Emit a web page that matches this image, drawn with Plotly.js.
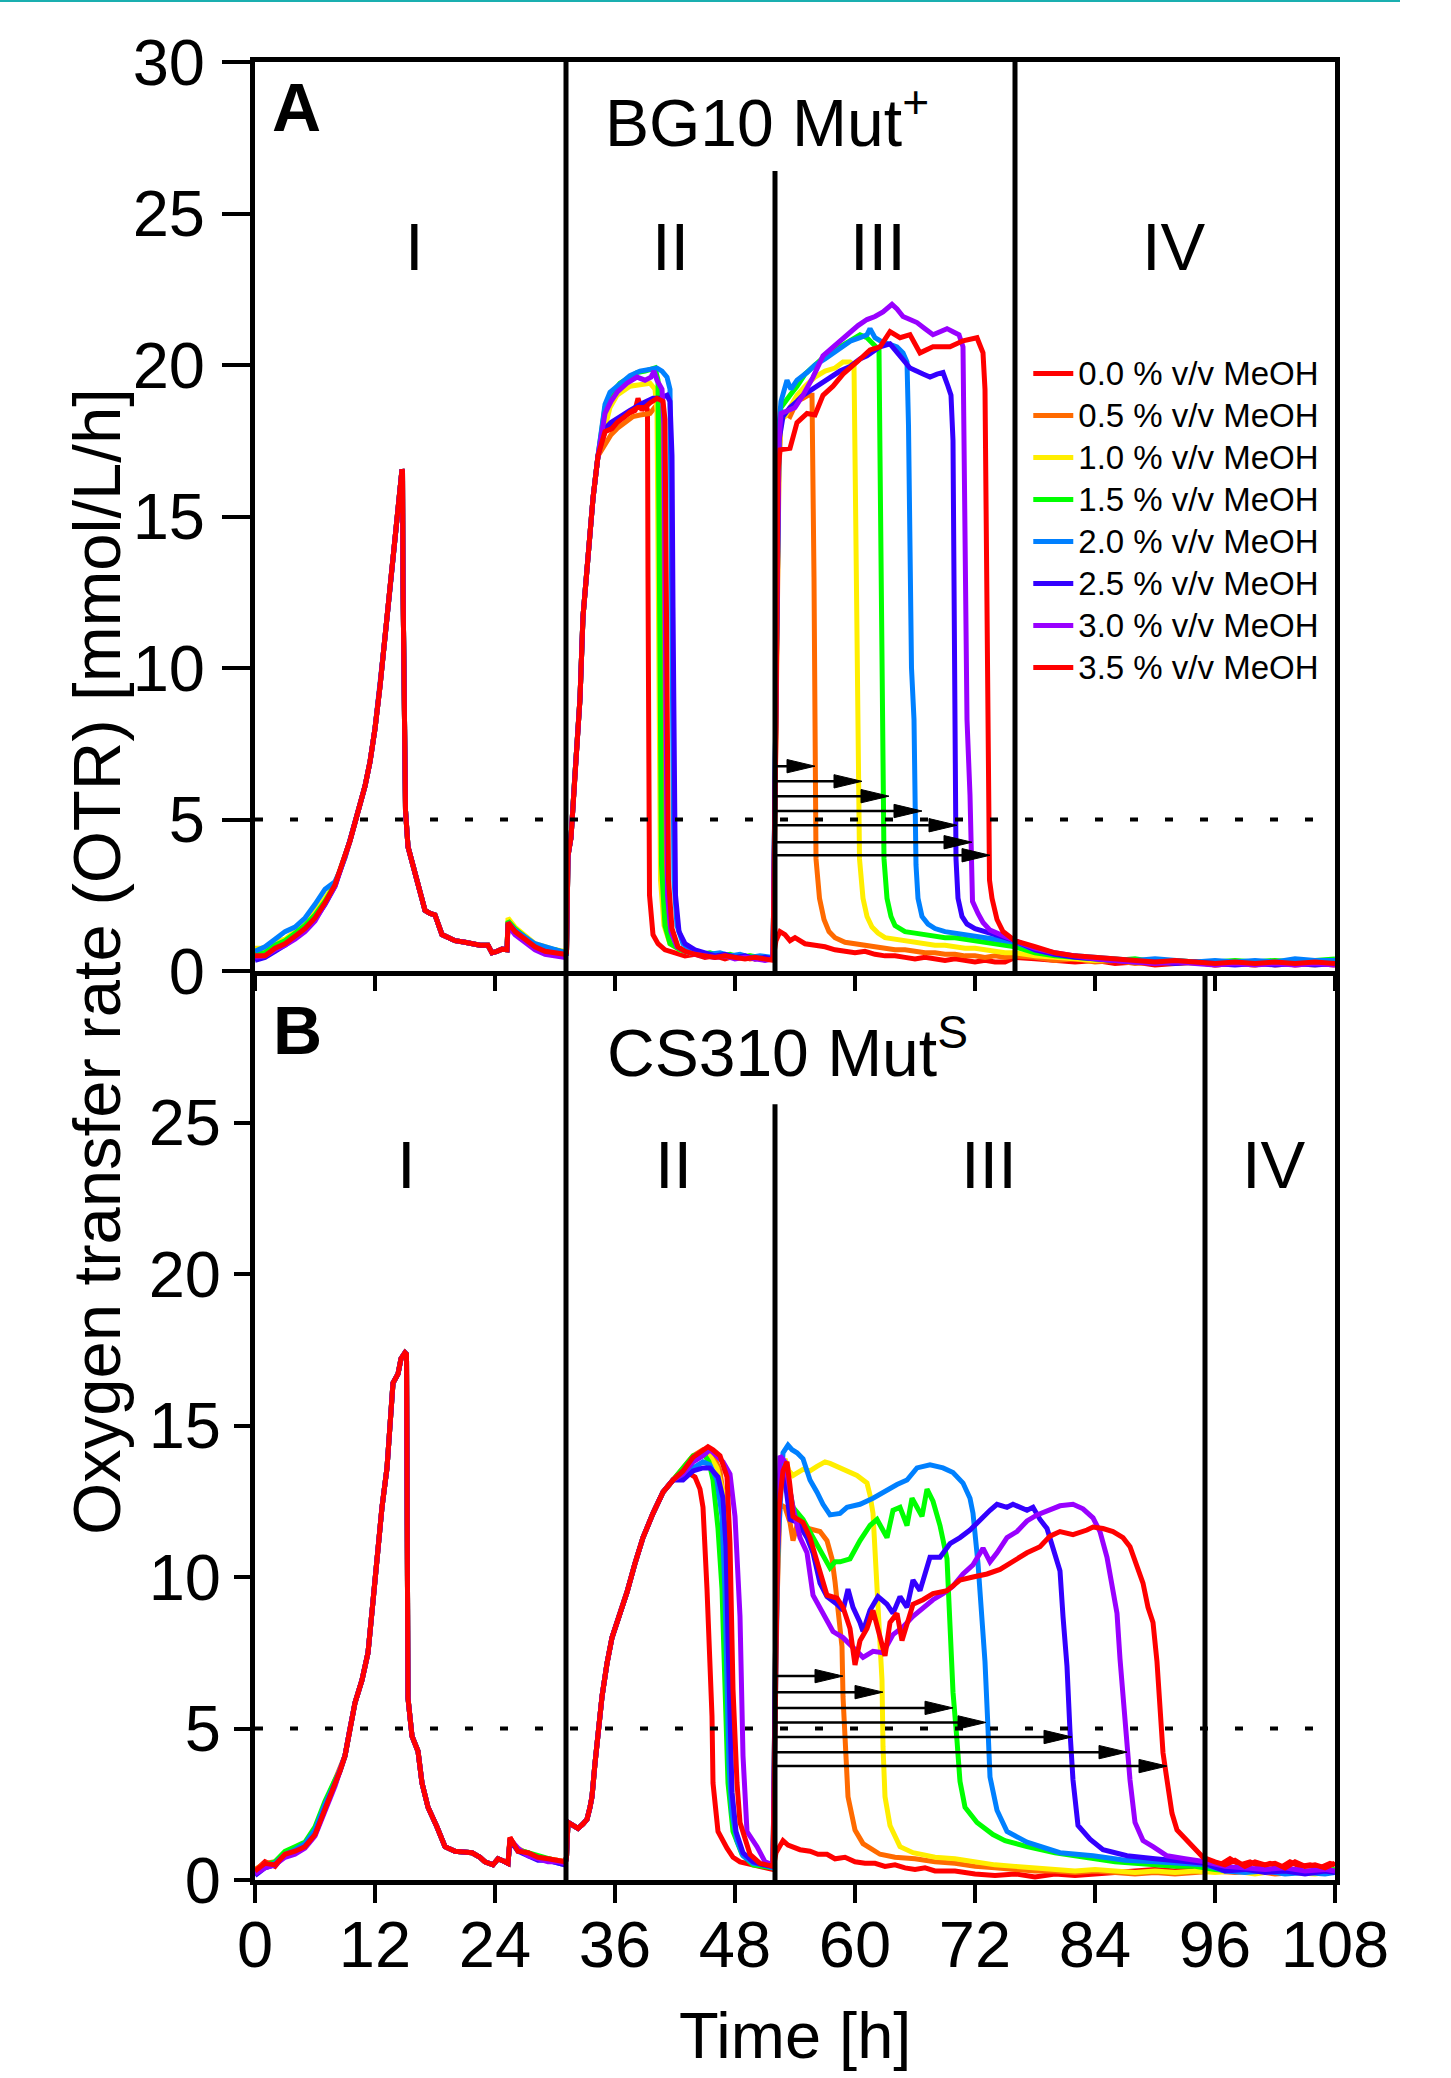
<!DOCTYPE html>
<html>
<head>
<meta charset="utf-8">
<script src="https://cdn.plot.ly/plotly-3.0.1.min.js"></script>
<style>html,body{margin:0;padding:0;background:#fff;}#chart{width:1451px;height:2078px;}</style>
</head>
<body>
<div id="chart"></div>
<script>
// ---------------- DATA ----------------
const seriesNames = ['0.0 % v/v MeOH','0.5 % v/v MeOH','1.0 % v/v MeOH','1.5 % v/v MeOH','2.0 % v/v MeOH','2.5 % v/v MeOH','3.0 % v/v MeOH','3.5 % v/v MeOH'];
const seriesColors = ['#FF0000','#FF6A00','#FFEE00','#00FF00','#0080FF','#3300FF','#9900FF','#FF0000'];
const xTicks = [0,12,24,36,48,60,72,84,96,108];
const yTicksTop = [0,5,10,15,20,25,30];
const yTicksBottom = [0,5,10,15,20,25];

// ---- Panel A (BG10 Mut+) ----
const earlyT = [0,1,2,3,4,5,6,7,8];
const earlyA = [
  [0.6,0.55,0.8,0.95,1.2,1.45,1.8,2.3,2.85],
  [0.7,0.7,0.9,1.0,1.25,1.5,1.9,2.35,2.9],
  [0.75,0.75,0.95,1.05,1.3,1.6,1.95,2.4,2.9],
  [0.55,0.6,0.85,1.0,1.25,1.5,1.85,2.3,2.85],
  [0.65,0.8,1.05,1.3,1.45,1.75,2.2,2.7,2.95],
  [0.35,0.45,0.65,0.85,1.1,1.35,1.7,2.2,2.8],
  [0.45,0.5,0.7,0.85,1.05,1.3,1.65,2.2,2.8],
  [0.5,0.5,0.75,0.9,1.15,1.4,1.75,2.25,2.85]
];
const coreA = [[8.5,3.3],[9,3.75],[9.5,4.3],[10,4.9],[10.5,5.5],[11,6.1],[11.5,6.9],[12,8.0],[12.5,9.4],[13,11.0],[13.5,12.6],[14,14.1],[14.3,15.0],[14.5,15.7],[14.7,16.55],[14.75,16.5],[14.8,12.8],[14.9,9.1],[15.05,5.3],[15.3,4.1],[15.7,3.6],[16.2,3.1],[16.6,2.5],[17,2.0],[17.5,1.9],[18,1.85],[18.7,1.2],[19.3,1.1],[20,1.0],[21,0.95],[21.7,0.9],[22.5,0.85],[23.3,0.85],[23.7,0.6],[24.2,0.65],[24.7,0.72],[25.2,0.7]];
const lateTA = [25.3,26,27,28,29,30,31];
const lateA = [
  [1.6,1.3,1.05,0.8,0.7,0.6,0.55],
  [1.6,1.35,1.1,0.85,0.75,0.65,0.6],
  [1.75,1.45,1.15,0.9,0.8,0.7,0.65],
  [1.65,1.4,1.1,0.85,0.75,0.7,0.6],
  [1.6,1.35,1.1,0.9,0.8,0.7,0.6],
  [1.55,1.3,1.0,0.75,0.65,0.55,0.5],
  [1.5,1.2,0.95,0.7,0.55,0.5,0.45],
  [1.6,1.3,1.05,0.8,0.65,0.6,0.55]
];
const riseA = [[31.15,0.6],[31.3,3.8],[31.6,4.4],[32.0,6.5],[32.5,9.0],[32.8,11.7],[33.3,13.9],[33.8,15.6],[34.3,17.0]];
const segA00 = [[35,17.8],[35.6,18.0],[36.2,18.1],[36.8,18.3],[37.5,18.4],[38.0,18.5],[38.3,18.9],[38.7,18.5],[39.1,18.7],[39.25,18.5],[39.3,13],[39.35,7],[39.45,2.5],[39.8,1.2],[40.3,0.9],[41,0.7],[42,0.6],[43,0.5],[44,0.55],[45,0.45],[46,0.5],[47,0.4],[48,0.5],[49,0.45],[50,0.4],[51,0.45],[51.8,0.4],
 [52.1,1.0],[52.5,1.3],[53,1.2],[53.5,1.0],[54,1.1],[55,0.9],[56,0.85],[57,0.8],[58,0.7],[59,0.65],[60,0.6],[61,0.65],[62,0.55],[63,0.5],[64,0.5],[65,0.45],[66,0.4],[67,0.45],[68,0.4],[69,0.35],[70,0.4],[71,0.35],[72,0.3],[73,0.35],[74,0.3],[75,0.3],[76,0.45],
 [78,0.4],[80,0.35],[82,0.3],[84,0.35],[86,0.25],[88,0.3],[90,0.2],[92,0.25],[94,0.3],[96,0.2],[98,0.25],[100,0.2],[102,0.3],[104,0.2],[106,0.25],[108,0.2]];
const segA05 = [[35,17.4],[35.6,17.7],[36.2,17.9],[37,18.1],[37.8,18.3],[38.5,18.35],[39.5,18.4],[40.2,18.7],[40.5,18.5],[40.6,14],[40.7,8],[40.85,3],[41.2,1.5],[41.8,0.9],[42.5,0.7],[43.5,0.6],[44.5,0.55],[45.5,0.5],[46.5,0.55],[47.5,0.45],[48.5,0.5],[49.5,0.4],[50.5,0.45],[51.8,0.4],
 [52.1,8],[52.4,16.5],[52.6,18.3],[53,18.4],[53.5,18.3],[54.2,18.8],[54.8,18.9],[55.3,19.0],[55.7,19.0],[55.8,17],[55.9,13],[56.0,8.3],[56.05,5],[56.1,3.7],[56.45,2.4],[56.9,1.7],[57.4,1.3],[58,1.1],[59,0.95],[60,0.9],[61,0.85],[62,0.8],[63,0.75],[64,0.7],[65,0.7],[66,0.65],[67,0.6],[68,0.6],[69,0.55],[70,0.55],[71,0.5],[72,0.5],[73,0.45],[74,0.5],[75,0.45],[76,0.5],
 [78,0.45],[80,0.35],[82,0.4],[84,0.3],[86,0.35],[88,0.25],[90,0.3],[92,0.25],[94,0.3],[96,0.2],[98,0.25],[100,0.3],[102,0.2],[104,0.25],[106,0.3],[108,0.25]];
const segA10 = [[35,18.0],[35.5,18.6],[36.2,19.0],[37.5,19.3],[38.5,19.35],[39.5,19.4],[40.0,19.2],[40.2,18.5],[40.3,14],[40.4,8],[40.55,3],[40.9,1.5],[41.5,0.9],[42.5,0.7],[43.5,0.6],[44.5,0.6],[45.5,0.5],[46.5,0.55],[47.5,0.5],[48.5,0.45],[49.5,0.5],[50.5,0.4],[51.8,0.45],
 [52.1,9],[52.4,17],[52.6,18.2],[53,18.3],[53.5,18.6],[54.2,19.0],[55,19.3],[56,19.6],[57,19.8],[58,19.9],[58.8,20.1],[59.5,20.1],[59.9,20.0],[60.0,17],[60.1,13],[60.3,9],[60.4,5],[60.45,3.7],[60.8,2.4],[61.2,1.8],[61.7,1.45],[62.3,1.25],[63,1.1],[64,1.05],[65,1.0],[66,0.95],[67,0.9],[68,0.85],[69,0.85],[70,0.8],[71,0.75],[72,0.75],[73,0.7],[74,0.65],[75,0.6],[76,0.6],
 [78,0.5],[80,0.45],[82,0.4],[84,0.35],[86,0.4],[88,0.3],[90,0.35],[92,0.3],[94,0.25],[96,0.3],[98,0.25],[100,0.2],[102,0.3],[104,0.25],[106,0.2],[108,0.3]];
const segA15 = [[35,18.6],[35.5,19.0],[36.5,19.4],[37.5,19.6],[38.2,19.75],[39,19.8],[39.5,19.85],[40,19.9],[40.3,19.5],[40.4,15],[40.5,9],[40.65,3.5],[41,1.5],[41.5,0.9],[42.5,0.7],[43.5,0.6],[44.5,0.55],[45.5,0.6],[46.5,0.5],[47.5,0.55],[48.5,0.45],[49.5,0.5],[50.5,0.45],[51.8,0.4],
 [52.1,9],[52.4,17.5],[52.6,18.6],[53,18.8],[53.5,19.0],[54.2,19.3],[55,19.7],[56,20.0],[57,20.3],[58,20.5],[59,20.7],[60,20.9],[60.5,21.0],[61.2,20.9],[62,20.6],[62.4,20.5],[62.5,17],[62.6,13],[62.75,9],[62.8,6],[62.9,3.7],[63.2,2.4],[63.6,1.8],[64,1.5],[64.5,1.4],[65,1.3],[66,1.25],[67,1.2],[68,1.15],[69,1.1],[70,1.1],[71,1.05],[72,1.0],[73,0.95],[74,0.9],[75,0.85],[76,0.8],
 [78,0.6],[80,0.5],[82,0.45],[84,0.4],[86,0.35],[88,0.4],[90,0.3],[92,0.35],[94,0.3],[96,0.3],[98,0.35],[100,0.3],[102,0.35],[104,0.3],[106,0.35],[108,0.4]];
const segA20 = [[35,18.7],[35.5,19.1],[36.5,19.4],[37.5,19.65],[38.5,19.8],[39.5,19.85],[40.2,19.9],[40.7,19.8],[41.2,19.6],[41.5,19.2],[41.6,15],[41.75,8],[41.9,3],[42.2,1.5],[42.8,0.9],[43.5,0.7],[44.5,0.6],[45.5,0.55],[46.5,0.6],[47.5,0.5],[48.5,0.55],[49.5,0.45],[50.5,0.5],[51.8,0.45],
 [52.1,10],[52.4,18],[52.6,18.8],[52.8,19.0],[53.2,19.5],[53.6,19.2],[54.2,19.5],[55.2,19.75],[56,20.0],[57,20.2],[57.8,20.4],[58.8,20.6],[59.6,20.8],[60.5,20.9],[61.2,21.0],[61.5,21.2],[62,20.9],[62.5,20.8],[63.3,20.7],[64.2,20.6],[64.8,20.4],[65.2,20.1],[65.35,18],[65.5,14],[65.65,10],[65.9,8.3],[66.0,5],[66.1,3.5],[66.3,2.4],[66.7,1.8],[67.3,1.55],[68,1.4],[69,1.3],[70,1.25],[71,1.2],[72,1.15],[73,1.1],[74,1.05],[75,1.0],[76,0.95],
 [78,0.7],[80,0.55],[82,0.5],[84,0.45],[86,0.4],[88,0.35],[90,0.4],[92,0.35],[94,0.3],[96,0.35],[98,0.3],[100,0.35],[102,0.3],[104,0.4],[106,0.35],[108,0.35]];
const segA25 = [[35,17.9],[35.6,18.1],[36.5,18.3],[37.5,18.5],[38.8,18.75],[39.8,18.9],[40.5,18.9],[41.2,19.0],[41.5,18.8],[41.7,17],[41.8,12],[41.9,6],[42.05,2.5],[42.4,1.3],[43,0.9],[44,0.7],[45,0.6],[46,0.5],[47,0.55],[48,0.45],[49,0.5],[50,0.4],[51,0.45],[51.8,0.4],
 [52.1,9],[52.4,17.5],[52.8,18.3],[53.5,18.6],[54.2,18.8],[54.8,19.0],[56.2,19.3],[57.5,19.6],[58.5,19.8],[59.5,19.95],[60.5,20.2],[61.2,20.3],[62.5,20.6],[63.5,20.7],[64,20.5],[64.5,20.25],[65.5,19.9],[66.8,19.7],[67.5,19.6],[68.2,19.7],[68.8,19.75],[69.3,19.3],[69.6,19.0],[69.8,17.5],[69.9,12],[70.0,8.3],[70.05,5],[70.1,3.7],[70.3,2.4],[70.7,1.8],[71.2,1.55],[72,1.4],[73,1.3],[74,1.2],[75,1.1],[76,1.0],
 [78,0.7],[80,0.55],[82,0.45],[84,0.4],[86,0.35],[88,0.3],[90,0.3],[92,0.25],[94,0.3],[96,0.25],[98,0.2],[100,0.25],[102,0.2],[104,0.25],[106,0.2],[108,0.25]];
const segA30 = [[35,18.4],[35.6,18.8],[36.2,19.1],[37.2,19.4],[38.2,19.6],[39,19.5],[39.6,19.6],[39.9,19.8],[40.2,19.5],[40.7,19.2],[40.9,18],[41.0,13],[41.1,7],[41.25,2.5],[41.6,1.3],[42.2,0.8],[43,0.65],[44,0.55],[45,0.5],[46,0.45],[47,0.5],[48,0.4],[49,0.45],[50,0.4],[51,0.35],[51.8,0.4],
 [52.1,9],[52.4,17.5],[52.6,18.4],[53.2,18.5],[54,18.6],[54.8,19.0],[55.8,19.6],[56.8,20.3],[57.8,20.6],[58.6,20.8],[59.5,21.1],[60.3,21.3],[61.2,21.5],[62,21.6],[62.8,21.75],[63.4,21.9],[63.7,22.0],[64.2,21.85],[64.8,21.6],[65.5,21.5],[66.2,21.4],[67,21.2],[67.8,21.0],[68.5,21.1],[69.2,21.2],[69.8,21.1],[70.4,21.0],[70.8,20.6],[71.0,15],[71.2,8.3],[71.5,5.8],[71.6,3.1],[71.75,2.3],[72.3,1.9],[72.8,1.6],[73.5,1.35],[74.5,1.2],[75.5,1.05],[76,1.0],
 [78,0.75],[80,0.6],[82,0.5],[84,0.4],[86,0.35],[88,0.3],[90,0.25],[92,0.3],[94,0.25],[96,0.2],[98,0.25],[100,0.2],[102,0.25],[104,0.2],[106,0.25],[108,0.2]];
const segA35 = [[35,17.8],[35.7,17.9],[36.2,18.1],[37,18.3],[37.5,18.45],[38.3,18.6],[39.0,18.6],[39.5,18.75],[40.2,18.9],[40.8,18.8],[41.0,18.2],[41.1,14],[41.2,8],[41.35,3],[41.7,1.4],[42.3,0.8],[43,0.65],[44,0.55],[45,0.5],[46,0.45],[47,0.5],[48,0.45],[49,0.4],[50,0.45],[51,0.4],[51.8,0.35],
 [52.1,8],[52.3,16.5],[52.5,17.2],[53.5,17.25],[54.2,18.1],[55.2,18.4],[56,18.35],[56.8,19.0],[57.8,19.3],[58.8,19.7],[60.2,20.1],[61.5,20.5],[62.5,20.6],[63.5,21.1],[64.5,20.9],[65.5,21.0],[66.5,20.4],[67.8,20.6],[69.5,20.6],[70.8,20.8],[72.2,20.9],[72.8,20.4],[73.0,19.2],[73.1,15],[73.2,11],[73.3,8.3],[73.35,5],[73.45,3.0],[73.7,2.4],[74.2,1.7],[74.8,1.3],[75.5,1.1],[76,1.0],
 [78,0.8],[80,0.6],[82,0.5],[84,0.45],[86,0.4],[88,0.35],[90,0.3],[92,0.35],[94,0.3],[96,0.25],[98,0.3],[100,0.25],[102,0.3],[104,0.25],[106,0.3],[108,0.25]];
const segsA = [segA00,segA05,segA10,segA15,segA20,segA25,segA30,segA35];

// ---- Panel B (CS310 MutS) ----
const earlyB = [
  [0.3,0.6,0.45,0.85,0.95,1.1,1.5,2.3,3.2],
  [0.35,0.55,0.6,0.9,1.0,1.2,1.7,2.5,3.3],
  [0.3,0.5,0.55,0.85,1.0,1.15,1.6,2.45,3.25],
  [0.25,0.5,0.6,0.95,1.1,1.25,1.75,2.6,3.3],
  [0.2,0.45,0.55,0.85,1.0,1.2,1.65,2.5,3.2],
  [0.15,0.4,0.5,0.8,0.9,1.1,1.5,2.3,3.1],
  [0.2,0.4,0.5,0.75,0.85,1.05,1.45,2.25,3.1],
  [0.3,0.55,0.5,0.85,0.95,1.1,1.5,2.3,3.15]
];
const coreB = [[8.5,3.6],[9.0,4.1],[9.5,5.0],[10,5.85],[10.7,6.6],[11.3,7.5],[11.8,9.2],[12.2,10.7],[12.7,12.3],[13.2,13.6],[13.5,15.2],[13.8,16.4],[14.3,16.7],[14.6,17.2],[15.0,17.4],[15.15,17.35],[15.22,11.7],[15.3,6.0],[15.7,4.75],[16.3,4.25],[16.7,3.2],[17.3,2.4],[18.2,1.75],[19,1.1],[20,0.95],[21,0.9],[21.7,0.9],[22.5,0.75],[23,0.6],[23.8,0.5],[24.3,0.7],[25,0.6],[25.3,0.55]];
const lateTB = [25.5,26.3,27.3,28.3,29.3,30.3,31.0];
const lateB = [
  [1.4,0.95,0.9,0.7,0.7,0.65,0.6],
  [1.35,1.0,0.9,0.75,0.7,0.6,0.6],
  [1.3,1.05,0.85,0.7,0.7,0.65,0.6],
  [1.35,1.0,0.9,0.8,0.7,0.6,0.55],
  [1.3,1.0,0.85,0.7,0.65,0.55,0.5],
  [1.3,0.95,0.8,0.65,0.65,0.55,0.5],
  [1.35,1.05,0.8,0.7,0.6,0.6,0.55],
  [1.4,0.95,0.9,0.75,0.7,0.65,0.6]
];
const riseB = [[31.05,0.6],[31.15,0.75],[31.3,1.9],[31.8,1.8],[32.3,1.7],[32.8,1.85],[33.2,2.0],[33.5,2.4],[33.7,2.75],[34.0,3.85],[34.3,4.95],[34.7,6.05],[35.2,7.15],[35.7,8.0],[36.5,8.8],[37.2,9.5],[38.0,10.45],[38.8,11.3],[39.8,12.1],[40.8,12.8],[41.8,13.2]];
const segB00 = [[42.8,13.5],[43.5,13.4],[44.0,13.3],[44.5,12.9],[44.8,12.3],[45.2,9.6],[45.5,7.4],[45.7,5.4],[45.8,3.2],[46.3,1.6],[47.2,1.05],[47.8,0.75],[48.5,0.6],[49.8,0.5],[50.5,0.45],[51.2,0.4],[51.8,0.35],
 [52.1,0.9],[52.8,1.3],[53.3,1.15],[53.8,1.1],[54.5,1.0],[55.5,0.95],[56.3,0.85],[57.2,0.85],[58,0.7],[59,0.75],[60,0.6],[61,0.55],[62,0.55],[63,0.45],[64,0.5],[65,0.4],[66,0.35],[67,0.4],[68,0.3],[70,0.3],[72,0.2],[74,0.15],[76,0.2],[78,0.1],[80,0.2],[82,0.15],[84,0.2],[86,0.25],[88,0.3],[90,0.35],[92,0.3],[94,0.45],
 [95.5,0.6],[96.5,0.5],[97.5,0.7],[98.5,0.5],[99.5,0.6],[100.5,0.45],[101.5,0.55],[102.5,0.4],[103.5,0.6],[104.5,0.45],[105.5,0.5],[106.5,0.4],[107.5,0.55],[108,0.5]];
const segB05 = [[42.8,13.6],[43.8,14.0],[44.8,14.2],[45.3,14.2],[46.0,13.9],[46.5,13.5],[46.9,12.5],[47.1,10.5],[47.3,7.5],[47.5,4.5],[47.7,2.5],[48.1,1.4],[48.7,0.9],[49.5,0.6],[50.5,0.5],[51.8,0.45],
 [52.1,8],[52.5,12.4],[53.0,12.3],[53.5,11.8],[53.8,11.2],[54.2,11.7],[54.8,11.65],[55.8,11.6],[56.5,11.5],[57.2,11.2],[57.7,10.6],[58.0,9.85],[58.3,8.8],[58.7,7.7],[58.8,6.05],[59.0,4.4],[59.3,2.75],[60.0,1.65],[60.8,1.2],[62.5,0.85],[64,0.75],[66,0.7],[68,0.6],[70,0.55],[72,0.45],[74,0.4],[76,0.35],[78,0.3],[80,0.3],[82,0.25],[84,0.3],[86,0.25],[88,0.2],[90,0.25],[92,0.2],[94,0.25],
 [96,0.3],[98,0.25],[100,0.3],[102,0.2],[104,0.25],[106,0.3],[108,0.25]];
const segB10 = [[42.8,13.5],[43.8,13.9],[44.8,14.1],[45.5,14.0],[46.2,13.6],[46.8,12.8],[47.1,11],[47.3,8],[47.5,5],[47.7,2.8],[48.1,1.5],[48.7,0.9],[49.5,0.6],[50.5,0.5],[51.8,0.45],
 [52.1,9],[52.5,13.0],[53.0,13.9],[53.4,13.5],[53.8,13.35],[54.8,13.55],[55.5,13.5],[56.2,13.65],[57.0,13.8],[57.5,13.75],[58.2,13.65],[58.8,13.55],[59.5,13.45],[60.2,13.35],[61.2,13.1],[61.5,12.7],[61.8,12.1],[62.0,11.0],[62.3,8.8],[62.7,6.6],[62.8,4.4],[63.0,2.75],[63.5,1.8],[64.5,1.1],[65.8,0.9],[67,0.8],[68,0.75],[70,0.7],[72,0.6],[74,0.5],[76,0.45],[78,0.4],[80,0.35],[82,0.3],[84,0.35],[86,0.3],[88,0.25],[90,0.3],[92,0.25],[94,0.3],
 [96,0.25],[98,0.3],[100,0.2],[102,0.3],[104,0.25],[106,0.2],[108,0.3]];
const segB15 = [[42.8,13.6],[43.8,14.0],[44.8,14.1],[45.4,13.8],[45.8,13.2],[46.3,11.6],[46.7,9.6],[47.0,6.3],[47.3,3.2],[47.8,1.6],[48.7,0.85],[49.8,0.5],[50.8,0.45],[51.8,0.4],
 [52.1,9],[52.5,13.2],[53.0,13.7],[53.4,13.0],[53.8,12.3],[54.8,11.9],[55.8,11.3],[56.7,10.8],[57.5,10.3],[58.0,10.5],[58.5,10.5],[59.5,10.6],[60.0,10.9],[60.5,11.2],[61.5,11.7],[62.2,11.9],[62.7,11.6],[63.2,11.3],[63.8,12.2],[64.5,12.3],[65.2,11.7],[65.7,12.6],[66.2,12.3],[66.7,12.0],[67.2,12.9],[67.8,12.5],[68.5,11.7],[68.9,11.0],[69.2,10.6],[69.5,8.4],[69.8,6.2],[70.2,4.6],[70.5,3.25],[71.0,2.4],[72.2,1.9],[73.8,1.5],[75,1.3],[77.2,1.1],[80,0.9],[82,0.8],[84,0.7],[86,0.6],[88,0.55],[90,0.5],[92,0.45],[94,0.45],
 [96,0.35],[98,0.3],[100,0.35],[102,0.3],[104,0.25],[106,0.3],[108,0.35]];
const segB20 = [[42.8,13.3],[43.8,13.6],[44.8,13.8],[45.5,13.7],[46.2,13.2],[46.7,12.0],[47.0,9.5],[47.2,6.5],[47.4,3.8],[47.7,2.2],[48.2,1.3],[48.8,0.8],[49.8,0.55],[50.8,0.5],[51.8,0.4],
 [52.05,6],[52.3,11.0],[52.8,14.1],[53.3,14.35],[53.7,14.2],[54.2,14.1],[54.8,13.9],[55.5,13.2],[56.2,12.8],[56.8,12.4],[57.5,12.05],[58.5,12.1],[59.2,12.3],[60.5,12.4],[61.8,12.6],[62.8,12.8],[64.2,13.05],[65.2,13.2],[66.2,13.6],[67.5,13.7],[68.8,13.6],[69.8,13.45],[70.8,13.1],[71.5,12.6],[71.8,12.1],[72.3,10.45],[72.7,8.8],[73.0,7.2],[73.3,5.0],[73.5,3.4],[74.2,2.3],[75.2,1.6],[77.2,1.25],[80.5,0.9],[83.8,0.8],[87,0.65],[90,0.6],[93,0.55],[95,0.5],
 [97,0.3],[99,0.25],[101,0.3],[103,0.2],[105,0.25],[107,0.2],[108,0.25]];
const segB25 = [[42.8,13.2],[43.8,13.5],[44.8,13.6],[45.5,13.6],[46.3,13.3],[46.8,12.6],[47.1,11],[47.3,8],[47.5,5],[47.7,2.9],[48.1,1.6],[48.8,0.9],[49.8,0.6],[50.8,0.5],[51.8,0.45],
 [52.1,9],[52.5,13.4],[53.0,13.2],[53.5,11.9],[54.3,11.8],[55.2,11.3],[55.8,10.8],[56.5,9.8],[57.2,9.35],[58.2,9.1],[58.8,8.9],[59.3,9.6],[59.8,9.0],[60.5,8.5],[60.8,8.2],[61.5,8.9],[62.3,9.35],[63.2,9.1],[63.8,8.8],[64.5,9.35],[65.2,9.0],[65.8,9.9],[66.5,9.55],[67.5,10.65],[68.5,10.65],[69.5,11.1],[70.5,11.3],[71.5,11.55],[72.5,11.9],[73.5,12.2],[74.2,12.4],[75.2,12.3],[75.8,12.4],[77.2,12.2],[77.8,12.3],[78.5,11.9],[79.2,11.6],[79.8,10.9],[80.5,10.2],[80.8,8.7],[81.2,7.05],[81.5,4.9],[81.8,3.3],[82.3,1.8],[83.5,1.35],[84.8,1.0],[87.2,0.8],[90,0.7],[93,0.6],[95,0.55],
 [97,0.3],[99,0.35],[101,0.25],[103,0.3],[105,0.2],[107,0.3],[108,0.25]];
const segB30 = [[42.8,13.4],[43.8,13.8],[44.8,14.0],[45.5,14.2],[46.2,14.0],[46.8,13.8],[47.5,13.4],[48.0,12.0],[48.5,8.7],[48.7,6.3],[48.8,4.1],[49.2,1.6],[50.2,1.1],[51.0,0.6],[51.8,0.5],
 [52.1,9],[52.5,14.0],[53.0,13.8],[53.8,12.3],[54.5,11.3],[55.2,10.8],[55.8,9.4],[56.5,9.0],[57.2,8.6],[57.8,8.2],[58.8,8.0],[59.8,7.7],[60.8,7.35],[61.8,7.55],[62.8,7.5],[63.8,8.1],[64.8,8.35],[65.8,8.7],[66.8,9.0],[67.8,9.25],[68.8,9.45],[69.8,9.7],[70.8,10.1],[71.8,10.4],[72.8,10.95],[73.2,10.7],[73.5,10.5],[74.2,10.8],[75.2,11.3],[76.2,11.5],[77.2,11.85],[78.2,12.05],[79.5,12.2],[80.5,12.35],[81.8,12.4],[82.8,12.25],[83.8,11.95],[84.5,11.5],[85.2,10.65],[85.8,9.6],[86.2,8.8],[86.5,7.3],[86.8,6.0],[87.2,4.6],[87.5,3.3],[88.0,1.9],[88.8,1.3],[89.8,1.1],[91.2,0.8],[93,0.7],[95,0.6],
 [97,0.45],[99,0.4],[101,0.35],[103,0.4],[105,0.3],[107,0.35],[108,0.3]];
const segB35 = [[42.8,13.5],[43.8,13.95],[44.8,14.2],[45.3,14.3],[45.8,14.2],[46.5,14.0],[47.2,13.3],[47.5,11.1],[47.8,6.3],[48.2,3.2],[48.5,1.9],[49.5,0.85],[50.5,0.55],[51.5,0.45],[51.8,0.45],
 [52.05,6],[52.3,12.0],[52.8,13.5],[53.2,13.8],[53.5,13.0],[53.8,12.0],[54.8,11.8],[55.5,11.3],[56.3,10.4],[57.2,9.4],[58.2,9.3],[58.8,9.0],[59.5,8.3],[60.0,7.1],[60.5,7.9],[61.2,8.3],[61.8,8.9],[62.5,8.1],[63.0,7.4],[63.5,8.5],[64.2,8.8],[64.7,7.9],[65.2,8.5],[65.8,9.1],[66.8,9.25],[67.8,9.45],[69.2,9.55],[70.5,9.9],[71.8,10.0],[73.2,10.1],[74.5,10.25],[75.8,10.5],[77.2,10.8],[78.5,11.0],[79.5,11.35],[80.5,11.5],[81.8,11.4],[83.2,11.55],[83.8,11.65],[84.8,11.6],[85.8,11.5],[86.8,11.3],[87.5,11.0],[88.2,10.35],[88.8,9.8],[89.3,9.0],[89.8,8.5],[90.2,7.2],[90.5,5.5],[90.8,4.2],[91.2,3.3],[91.7,2.2],[92.2,1.65],[93.2,1.3],[94.2,1.0],[94.8,0.75],
 [96,0.6],[97,0.5],[98,0.65],[99,0.45],[100,0.6],[101,0.5],[102,0.55],[103,0.4],[104,0.6],[105,0.45],[106,0.5],[107,0.4],[108,0.55]];
const segsB = [segB00,segB05,segB10,segB15,segB20,segB25,segB30,segB35];

// phase dividers, labels, arrows
const dividersA = [31.1, 52, 76];
const dividerTopA = [30, 26.4, 30];
const dividersB = [31.1, 52, 95];
const dividerTopB = [30, 25.6, 30];
const phaseLabels = ['I','II','III','IV'];
const phaseXA = [15.9, 41.5, 62.3, 91.9];
const phaseXB = [15.1, 41.8, 73.4, 101.9];
const arrowStart = 52;
const arrowYA = [6.76, 6.26, 5.77, 5.28, 4.81, 4.25, 3.82];
const arrowEndA = [56.0, 60.7, 63.4, 66.7, 70.2, 71.7, 73.5];
const arrowYB = [6.73, 6.2, 5.68, 5.2, 4.72, 4.22, 3.76];
const arrowEndB = [58.8, 62.8, 69.8, 73.1, 81.7, 87.2, 91.2];
const thresholdOTR = 5;

// ---------------- BUILD ----------------
const FONT = "'Liberation Sans', Arial, Helvetica, sans-serif";
const traces = [];
function buildSeries(i, early, core, lateT, late, rise, seg) {
  const x = [], y = [];
  earlyT.forEach((t,k)=>{x.push(t); y.push(early[i][k]);});
  core.forEach(p=>{x.push(p[0]); y.push(p[1]);});
  lateT.forEach((t,k)=>{x.push(t); y.push(late[i][k]);});
  rise.forEach(p=>{x.push(p[0]); y.push(p[1]);});
  seg[i].forEach(p=>{x.push(p[0]); y.push(p[1]);});
  return {x, y};
}
for (let i=0;i<8;i++){
  const d = buildSeries(i, earlyA, coreA, lateTA, lateA, riseA, segsA);
  traces.push({type:'scatter', mode:'lines', x:d.x, y:d.y, xaxis:'x2', yaxis:'y2',
    name: '<span style="font-size:33px">' + seriesNames[i] + '</span>', line:{color:seriesColors[i], width:5}, showlegend:true});
}
for (let i=0;i<8;i++){
  const d = buildSeries(i, earlyB, coreB, lateTB, lateB, riseB, segsB);
  traces.push({type:'scatter', mode:'lines', x:d.x, y:d.y, xaxis:'x', yaxis:'y',
    name: seriesNames[i], line:{color:seriesColors[i], width:5}, showlegend:false});
}

const shapes = [];
function addPanelShapes(xr, yr, dividers, tops, arrowY, arrowEnd) {
  dividers.forEach((d,k)=>shapes.push({type:'line', xref:xr, yref:yr, x0:d, x1:d, y0:0, y1:tops[k], line:{color:'black', width:5}}));
  shapes.push({type:'line', xref:xr, yref:yr, x0:0, x1:108, y0:thresholdOTR, y1:thresholdOTR, line:{color:'black', width:4, dash:'8px,27px'}});
  arrowY.forEach((ay,k)=>{
    const xe = arrowEnd[k];
    shapes.push({type:'line', xref:xr, yref:yr, x0:arrowStart, x1:xe-0.5, y0:ay, y1:ay, line:{color:'black', width:2.5}});
    shapes.push({type:'path', xref:xr, yref:yr, path:`M ${xe-2.8} ${ay-0.22} L ${xe} ${ay} L ${xe-2.8} ${ay+0.22} Z`, fillcolor:'black', line:{color:'black', width:1}});
  });
}
addPanelShapes('x2','y2', dividersA, dividerTopA, arrowYA, arrowEndA);
addPanelShapes('x','y', dividersB, dividerTopB, arrowYB, arrowEndB);
// page accent line at very top
shapes.push({type:'line', xref:'paper', yref:'paper', x0:-255/1080, x1:(1400-255)/1080, y0:(1880-1)/1818, y1:(1880-1)/1818, line:{color:'#1AAFB0', width:2}});

const annotations = [];
phaseLabels.forEach((t,k)=>{
  annotations.push({xref:'x2', yref:'y2', x:phaseXA[k], y:23.9, text:t, showarrow:false, font:{family:FONT, size:67, color:'black'}});
  annotations.push({xref:'x', yref:'y', x:phaseXB[k], y:23.6, text:t, showarrow:false, font:{family:FONT, size:67, color:'black'}});
});
annotations.push({xref:'x2', yref:'y2', x:4.1, y:28.5, text:'<b>A</b>', showarrow:false, font:{family:FONT, size:68, color:'black'}});
annotations.push({xref:'x', yref:'y', x:4.2, y:28.05, text:'<b>B</b>', showarrow:false, font:{family:FONT, size:68, color:'black'}});
annotations.push({xref:'x2', yref:'y2', x:51.2, y:28.15, text:'BG10 Mut<sup>+</sup>', showarrow:false, font:{family:FONT, size:66, color:'black'}});
annotations.push({xref:'x', yref:'y', x:53.2, y:27.45, text:'CS310 Mut<sup>S</sup>', showarrow:false, font:{family:FONT, size:66, color:'black'}});
annotations.push({xref:'paper', yref:'paper', x:(97-255)/1080, y:0.505, text:'Oxygen transfer rate (OTR) [mmol/L/h]', textangle:-90, showarrow:false, xanchor:'center', yanchor:'middle', font:{family:FONT, size:67, color:'black'}});
annotations.push({xref:'paper', yref:'paper', x:0.5, y:(1880-2035)/1818, text:'Time [h]', showarrow:false, xanchor:'center', yanchor:'middle', font:{family:FONT, size:65, color:'black'}});

const axisCommon = {showgrid:false, zeroline:false, showline:true, linecolor:'black', linewidth:5, tickcolor:'black', tickwidth:4, tickfont:{family:FONT, size:65, color:'black'}};

const layout = {
  width:1451, height:2078,
  margin:{l:255, r:116, t:62, b:198, pad:0},
  paper_bgcolor:'white', plot_bgcolor:'white',
  showlegend:true,
  legend:{x:0.716, y:0.843, xanchor:'left', yanchor:'top', bgcolor:'rgba(0,0,0,0)', borderwidth:0, font:{family:FONT, size:30, color:'black'}, itemwidth:40, tracegroupgap:0},
  xaxis: Object.assign({}, axisCommon, {domain:[0,1], anchor:'y', range:[0,108], tickmode:'array', tickvals:xTicks, ticks:'outside', ticklen:18, mirror:false, ticklabelstandoff:-14}),
  xaxis2: Object.assign({}, axisCommon, {domain:[0,1], anchor:'y2', range:[0,108], tickmode:'array', tickvals:xTicks, ticks:'outside', ticklen:15, showticklabels:false, mirror:true}),
  yaxis: Object.assign({}, axisCommon, {domain:[0,0.5], anchor:'x', range:[0,30], tickmode:'array', tickvals:yTicksBottom, ticks:'outside', ticklen:16, mirror:true}),
  yaxis2: Object.assign({}, axisCommon, {domain:[0.5,1], anchor:'x2', range:[0,30], tickmode:'array', tickvals:yTicksTop, ticks:'outside', ticklen:28, mirror:true, ticklabelstandoff:4}),
  shapes: shapes,
  annotations: annotations,
  font:{family:FONT, color:'black'}
};
Plotly.newPlot('chart', traces, layout, {staticPlot:true, displayModeBar:false});
</script>
</body>
</html>
